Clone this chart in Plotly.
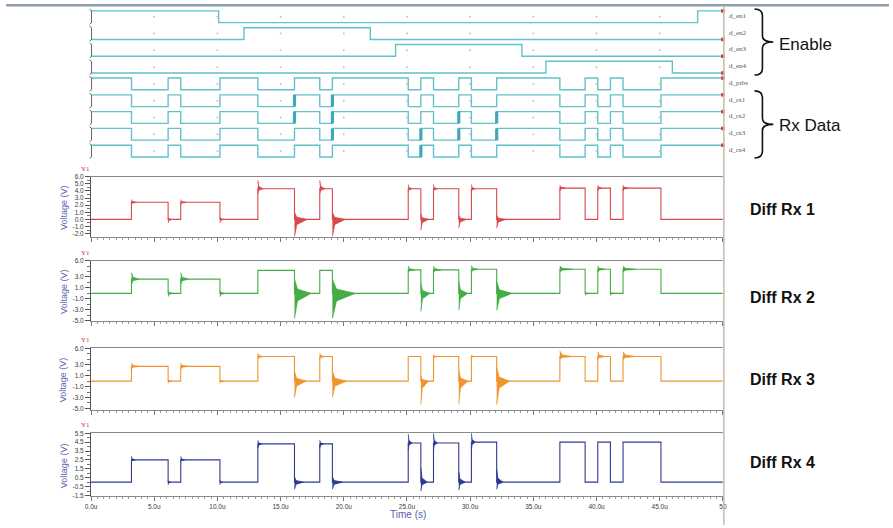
import plotly.graph_objects as go

W, H = 893, 528

# ------------------------------------------------------------------ data
T_END = 50.0
X_TICKS = [0, 5, 10, 15, 20, 25, 30, 35, 40, 45, 50]
X_TICK_TEXT = ["0.0u", "5.0u", "10.0u", "15.0u", "20.0u", "25.0u",
               "30.0u", "35.0u", "40.0u", "45.0u", "50"]

DIGITAL_NAMES = ["d_en1", "d_en2", "d_en3", "d_en4", "d_prbs",
                 "d_rx1", "d_rx2", "d_rx3", "d_rx4"]
EN1_EDGES = [10.1, 48.0]
EN2_EDGES = [12.1, 22.1]
EN3_EDGES = [24.1, 34.1]
EN4_EDGES = [36.0, 46.0]
EN_START = [1, 0, 0, 0]
# transitions of the PRBS data pattern (us)
DATA_EDGES = [3.2, 6.1, 7.1, 10.2, 13.2, 16.1, 18.1, 19.1, 25.1, 26.1,
              27.1, 29.1, 30.1, 32.1, 37.1, 39.1, 40.1, 41.1, 42.1, 45.1]
PRBS_START = 1
RX1_GLITCH = [16.1, 19.1]
RX2_GLITCH = [16.1, 19.1, 29.1, 32.1]
RX3_GLITCH = [19.1, 26.1, 29.1, 32.1]
RX4_GLITCH = [26.1]

# differential receiver outputs (V)
DIFF_LOW = [0.0, 0.0, 0.0, 0.0]
RX1_HIGH = [2.4, 2.4, 4.3, 4.3, 4.3, 4.3, 4.3, 4.4, 4.4, 4.4]
RX2_HIGH = [2.6, 2.6, 4.2, 4.2, 4.3, 4.3, 4.4, 4.4, 4.4, 4.4]
RX3_HIGH = [2.7, 2.7, 4.5, 4.5, 4.5, 4.5, 4.5, 4.5, 4.5, 4.5]
RX4_HIGH = [2.5, 2.5, 4.3, 4.3, 4.4, 4.4, 4.5, 4.5, 4.5, 4.5]

# ringing bursts: edge time, upper peak, lower peak, settling time
RX1_RING_T = [3.2, 6.1, 7.1, 10.2, 13.2, 16.1, 18.1, 19.1, 25.1, 26.1, 27.1, 29.1, 30.1, 32.1, 37.1, 40.1, 42.1]
RX1_RING_HI = [2.8, 0.3, 2.8, 0.3, 5.5, 1.0, 5.5, 1.0, 4.9, 0.8, 4.9, 0.6, 4.9, 0.6, 4.8, 4.8, 4.8]
RX1_RING_LO = [2.1, -0.5, 2.1, -0.5, 3.6, -2.4, 3.6, -2.4, 3.9, -1.5, 3.9, -1.2, 3.9, -1.2, 4.0, 4.0, 4.0]
RX1_RING_D = [0.4, 0.3, 0.4, 0.3, 0.4, 1.0, 0.4, 1.0, 0.3, 0.6, 0.3, 0.6, 0.3, 0.7, 0.4, 0.3, 0.4]

RX2_RING_T = [3.2, 6.1, 7.1, 10.2, 16.1, 19.1, 25.1, 26.1, 27.1, 29.1, 30.1, 32.1, 37.1, 39.1, 40.1, 41.1, 42.1]
RX2_RING_HI = [3.8, 0.5, 3.8, 0.5, 2.6, 2.6, 5.0, 1.8, 5.0, 2.2, 5.1, 2.2, 5.0, 0.3, 5.0, 0.3, 5.0]
RX2_RING_LO = [1.6, -0.6, 1.6, -0.6, -4.6, -4.6, 3.8, -3.3, 3.8, -3.1, 3.8, -3.1, 3.9, -0.4, 3.9, -0.4, 3.9]
RX2_RING_D = [0.6, 0.4, 0.6, 0.4, 1.3, 1.8, 0.5, 0.7, 0.6, 0.7, 0.5, 1.2, 1.0, 0.3, 0.6, 0.3, 1.0]

RX3_RING_T = [3.2, 6.1, 7.1, 10.2, 13.2, 16.1, 18.1, 19.1, 26.1, 27.1, 29.1, 30.1, 32.1, 37.1, 40.1, 42.1]
RX3_RING_HI = [3.3, 0.3, 3.3, 0.3, 5.1, 1.8, 5.1, 1.8, 1.0, 4.9, 2.0, 4.8, 2.6, 5.5, 5.4, 5.4]
RX3_RING_LO = [2.2, -0.4, 2.2, -0.4, 4.0, -3.0, 4.0, -3.0, -4.3, 4.1, -4.2, 4.2, -4.3, 4.0, 4.0, 4.0]
RX3_RING_D = [0.6, 0.3, 0.6, 0.3, 0.4, 0.9, 0.4, 1.1, 0.6, 0.3, 0.7, 0.2, 1.0, 1.0, 0.6, 1.0]

RX4_RING_T = [3.2, 6.1, 7.1, 10.2, 13.2, 16.1, 18.1, 19.1, 25.1, 26.1, 27.1, 29.1, 30.1, 32.1]
RX4_RING_HI = [2.9, 0.2, 2.9, 0.2, 4.7, 0.6, 4.7, 0.6, 5.4, 1.6, 5.5, 1.2, 5.5, 1.5]
RX4_RING_LO = [2.3, -0.3, 2.3, -0.3, 3.8, -0.8, 3.8, -0.8, 3.6, -1.0, 3.6, -0.9, 3.6, -0.8]
RX4_RING_D = [0.3, 0.2, 0.3, 0.2, 0.3, 0.7, 0.3, 0.8, 0.3, 0.5, 0.3, 0.5, 0.3, 0.5]

P1_TICKS = [6, 5, 4, 3, 2, 1, 0, -1, -2]
P1_TEXT = ["6.0", "5.0", "4.0", "3.0", "2.0", "1.0", "0.0", "-1.0", "-2.0"]
P2_TICKS = [6, 3, 1, -1, -3, -5]
P2_TEXT = ["6.0", "3.0", "1.0", "-1.0", "-3.0", "-5.0"]
P3_TICKS = [6, 3, 1, -1, -3, -5]
P3_TEXT = ["6.0", "3.0", "1.0", "-1.0", "-3.0", "-5.0"]
P4_TICKS = [5.5, 4.5, 3.5, 2.5, 1.5, 0.5, -0.5, -1.5]
P4_TEXT = ["5.5", "4.5", "3.5", "2.5", "1.5", "0.5", "-0.5", "-1.5"]

PANEL_LABELS = ["Diff Rx 1", "Diff Rx 2", "Diff Rx 3", "Diff Rx 4"]
COLORS = ["#d8474b", "#45ad45", "#f0942f", "#2d3a92"]
DIG_COLOR = "#62c1cb"


# ------------------------------------------------------------------ helpers
def px(x):
    return x / W


def py(y):
    return 1 - y / H


ROW_AMP = 0.7


def row_base(i):
    return 8 - i


def digital_wave(start, edges, base):
    xs, ys, cur = [0.0], [start], start
    for t in edges:
        xs += [t, t]
        ys += [cur, 1 - cur]
        cur = 1 - cur
    xs.append(T_END)
    ys.append(cur)
    return xs, [base + v * ROW_AMP for v in ys], base + cur * ROW_AMP


def analog_levels(high, low):
    lv, cur = [], low
    for j, _ in enumerate(DATA_EDGES):
        cur = high[j // 2] if j % 2 == 0 else low
        lv.append(cur)
    return lv


def analog_wave(high, low):
    lv = analog_levels(high, low)
    xs, ys, cur = [0.0], [low], low
    for t, v in zip(DATA_EDGES, lv):
        xs += [t, t]
        ys += [cur, v]
        cur = v
    xs.append(T_END)
    ys.append(cur)
    return xs, ys


def ringing(high, low, rt, rhi, rlo, rd):
    lv = analog_levels(high, low)
    xs, ys = [], []
    for t, hi, lo, d in zip(rt, rhi, rlo, rd):
        j = min(range(len(DATA_EDGES)), key=lambda k: abs(DATA_EDGES[k] - t))
        s = lv[j]
        xs += [t, t + 0.18 * d, t + d, t + 0.18 * d, t, None]
        ys += [hi, s + 0.3 * (hi - s), s, s + 0.3 * (lo - s), lo, None]
    return xs, ys


fig = go.Figure()

# ------------------------------------------------------------------ digital panel
en_edges = [EN1_EDGES, EN2_EDGES, EN3_EDGES, EN4_EDGES]
glitches = [RX1_GLITCH, RX2_GLITCH, RX3_GLITCH, RX4_GLITCH]
end_x, end_y = [], []
for i, name in enumerate(DIGITAL_NAMES):
    if i < 4:
        xs, ys, last = digital_wave(EN_START[i], en_edges[i], row_base(i))
    else:
        xs, ys, last = digital_wave(PRBS_START, DATA_EDGES, row_base(i))
    fig.add_trace(go.Scatter(x=xs, y=ys, mode="lines", xaxis="x", yaxis="y",
                             line=dict(color=DIG_COLOR, width=1.4), hoverinfo="skip",
                             showlegend=False))
    end_x.append(T_END)
    end_y.append(last)
    if i >= 5:
        gx, gy = [], []
        for t in glitches[i - 5]:
            gx += [t, t, None]
            gy += [row_base(i), row_base(i) + ROW_AMP, None]
        fig.add_trace(go.Scatter(x=gx, y=gy, mode="lines", xaxis="x", yaxis="y",
                                 line=dict(color="#3fa9b8", width=3.2), hoverinfo="skip",
                                 showlegend=False))

# faint grid dots
dot_x, dot_y = [], []
for i in range(len(DIGITAL_NAMES)):
    for t in X_TICKS[1:-1]:
        dot_x.append(t)
        dot_y.append(row_base(i) + ROW_AMP / 2)
fig.add_trace(go.Scatter(x=dot_x, y=dot_y, mode="markers", xaxis="x", yaxis="y",
                         marker=dict(color="#c4c4c4", size=2), hoverinfo="skip",
                         showlegend=False))
fig.add_trace(go.Scatter(x=end_x, y=end_y, mode="markers", xaxis="x", yaxis="y",
                         marker=dict(color="#d03a3a", size=3.5, symbol="square"),
                         cliponaxis=False, hoverinfo="skip", showlegend=False))

# ------------------------------------------------------------------ analog panels
highs = [RX1_HIGH, RX2_HIGH, RX3_HIGH, RX4_HIGH]
rings = [(RX1_RING_T, RX1_RING_HI, RX1_RING_LO, RX1_RING_D),
         (RX2_RING_T, RX2_RING_HI, RX2_RING_LO, RX2_RING_D),
         (RX3_RING_T, RX3_RING_HI, RX3_RING_LO, RX3_RING_D),
         (RX4_RING_T, RX4_RING_HI, RX4_RING_LO, RX4_RING_D)]
for k in range(4):
    xa, ya = "x%d" % (k + 2), "y%d" % (k + 2)
    xs, ys = analog_wave(highs[k], DIFF_LOW[k])
    rx, ry = ringing(highs[k], DIFF_LOW[k], *rings[k])
    fig.add_trace(go.Scatter(x=rx, y=ry, mode="lines", xaxis=xa, yaxis=ya, fill="toself",
                             fillcolor=COLORS[k], line=dict(color=COLORS[k], width=0.8),
                             hoverinfo="skip", showlegend=False))
    fig.add_trace(go.Scatter(x=xs, y=ys, mode="lines", xaxis=xa, yaxis=ya,
                             line=dict(color=COLORS[k], width=1.1),
                             hoverinfo="skip", showlegend=False))

# ------------------------------------------------------------------ layout
X_DOM = [px(86), px(725)]
panels = [  # (top px, bottom px, range, tickvals, ticktext, minor dtick)
    (175, 236, [-2.45, 6.0], P1_TICKS, P1_TEXT, 0.5),
    (260, 321, [-5.0, 6.0], P2_TICKS, P2_TEXT, 1.0),
    (349, 411, [-5.2, 6.0], P3_TICKS, P3_TEXT, 1.0),
    (435, 499, [-1.6, 5.5], P4_TICKS, P4_TEXT, 0.5),
]

tick_font = dict(family="Liberation Sans, Arial", size=6.5, color="#3a3a3a")
layout = dict(
    width=W, height=H, autosize=False,
    margin=dict(l=0, r=0, t=0, b=0),
    paper_bgcolor="white", plot_bgcolor="white",
    showlegend=False,
    xaxis=dict(domain=X_DOM, range=[0, T_END], visible=False, fixedrange=True),
    yaxis=dict(domain=[py(160.1), py(1.9)], range=[-0.3, 9.0], visible=False),
)
for k, (top, bot, rng, tv, tt, mdt) in enumerate(panels):
    n = k + 2
    layout["xaxis%d" % n] = dict(
        domain=X_DOM, range=[0, T_END], anchor="y%d" % n,
        showline=True, linecolor="#8a8a8a", linewidth=1, mirror=True,
        showgrid=False, zeroline=False,
        tickvals=X_TICKS, ticktext=X_TICK_TEXT, ticks="outside", ticklen=4,
        tickcolor="#777", tickwidth=1,
        minor=dict(dtick=0.5, ticks="outside", ticklen=2, tickcolor="#999"),
        showticklabels=(k == 3), tickfont=tick_font,
    )
    layout["yaxis%d" % n] = dict(
        domain=[py(bot), py(top)], range=rng, anchor="x%d" % n,
        showline=True, linecolor="#555", linewidth=1,
        showgrid=False, zeroline=False,
        tickvals=tv, ticktext=tt, ticks="outside", ticklen=5, tickcolor="#555",
        minor=dict(dtick=mdt, ticks="outside", ticklen=3, tickcolor="#777"),
        tickfont=tick_font,
    )

annotations = []
# digital row names
for i, name in enumerate(DIGITAL_NAMES):
    yc = 7 + 17 * i + 5
    annotations.append(dict(text=name, x=px(729), y=py(yc), xref="paper", yref="paper",
                            xanchor="left", yanchor="middle", showarrow=False,
                            font=dict(family="Liberation Serif", size=7, color="#555")))
annotations.append(dict(text="Enable", x=px(780), y=py(41.5), xref="paper", yref="paper",
                        xanchor="left", yanchor="middle", showarrow=False,
                        font=dict(family="Liberation Sans, Arial", size=17, color="#111")))
annotations.append(dict(text="Rx Data", x=px(780), y=py(123.5), xref="paper", yref="paper",
                        xanchor="left", yanchor="middle", showarrow=False,
                        font=dict(family="Liberation Sans, Arial", size=17, color="#111")))
label_y = [208, 297, 381, 465]
for k, (top, bot, *_r) in enumerate(panels):
    annotations.append(dict(text="<b>%s</b>" % PANEL_LABELS[k], x=px(750), y=py(label_y[k]),
                            xref="paper", yref="paper", xanchor="left", yanchor="middle",
                            showarrow=False,
                            font=dict(family="Liberation Sans, Arial", size=16, color="#111")))
    annotations.append(dict(text="Y1", x=px(80), y=py(top - 8), xref="paper", yref="paper",
                            xanchor="center", yanchor="middle", showarrow=False,
                            font=dict(family="Liberation Serif", size=7, color="#c0392b")))
    annotations.append(dict(text="Voltage (V)", x=px(58), y=py((top + bot) / 2 + 1),
                            xref="paper", yref="paper", textangle=-90,
                            xanchor="center", yanchor="middle", showarrow=False,
                            font=dict(family="Liberation Sans, Arial", size=9, color="#6464b4")))
annotations.append(dict(text="Time (s)", x=px(407), y=py(517), xref="paper", yref="paper",
                        xanchor="center", yanchor="middle", showarrow=False,
                        font=dict(family="Liberation Sans, Arial", size=10, color="#5a5ab0")))
layout["annotations"] = annotations


def brace(top, bot, x0=757, xs=765, xt=776):
    mid = (top + bot) / 2
    p = "M %f %f " % (px(x0), py(top))
    p += "Q %f %f %f %f " % (px(xs), py(top), px(xs), py(top + 7))
    p += "L %f %f " % (px(xs), py(mid - 6))
    p += "Q %f %f %f %f " % (px(xs), py(mid), px(xt), py(mid))
    p += "Q %f %f %f %f " % (px(xs), py(mid), px(xs), py(mid + 6))
    p += "L %f %f " % (px(xs), py(bot - 7))
    p += "Q %f %f %f %f" % (px(xs), py(bot), px(x0), py(bot))
    return dict(type="path", path=p, xref="paper", yref="paper",
                line=dict(color="#111", width=1.6))


shapes = [
    dict(type="rect", xref="paper", yref="paper", x0=0, x1=1, y0=py(2.5), y1=1,
         fillcolor="#8d9fae", line=dict(width=0)),
    dict(type="line", xref="paper", yref="paper", x0=px(726), x1=px(726), y0=0, y1=py(2.5),
         line=dict(color="#c8beb6", width=1.6)),
    brace(5, 72),
    brace(88, 156),
]
# left brackets of the digital rows
for i in range(len(DIGITAL_NAMES)):
    t = 7 + 17 * i - 1.5
    b = t + 15
    p = "M %f %f L %f %f L %f %f L %f %f" % (px(84.5), py(t), px(86.5), py(t + 1.5),
                                             px(86.5), py(b - 1.5), px(84.5), py(b))
    shapes.append(dict(type="path", path=p, xref="paper", yref="paper",
                       line=dict(color="#666", width=1)))
layout["shapes"] = shapes

fig.update_layout(**layout)
fig.write_html("out.html", config=dict(displayModeBar=False, staticPlot=True),
               post_script="document.body.style.margin='0';document.body.style.overflow='hidden';")
